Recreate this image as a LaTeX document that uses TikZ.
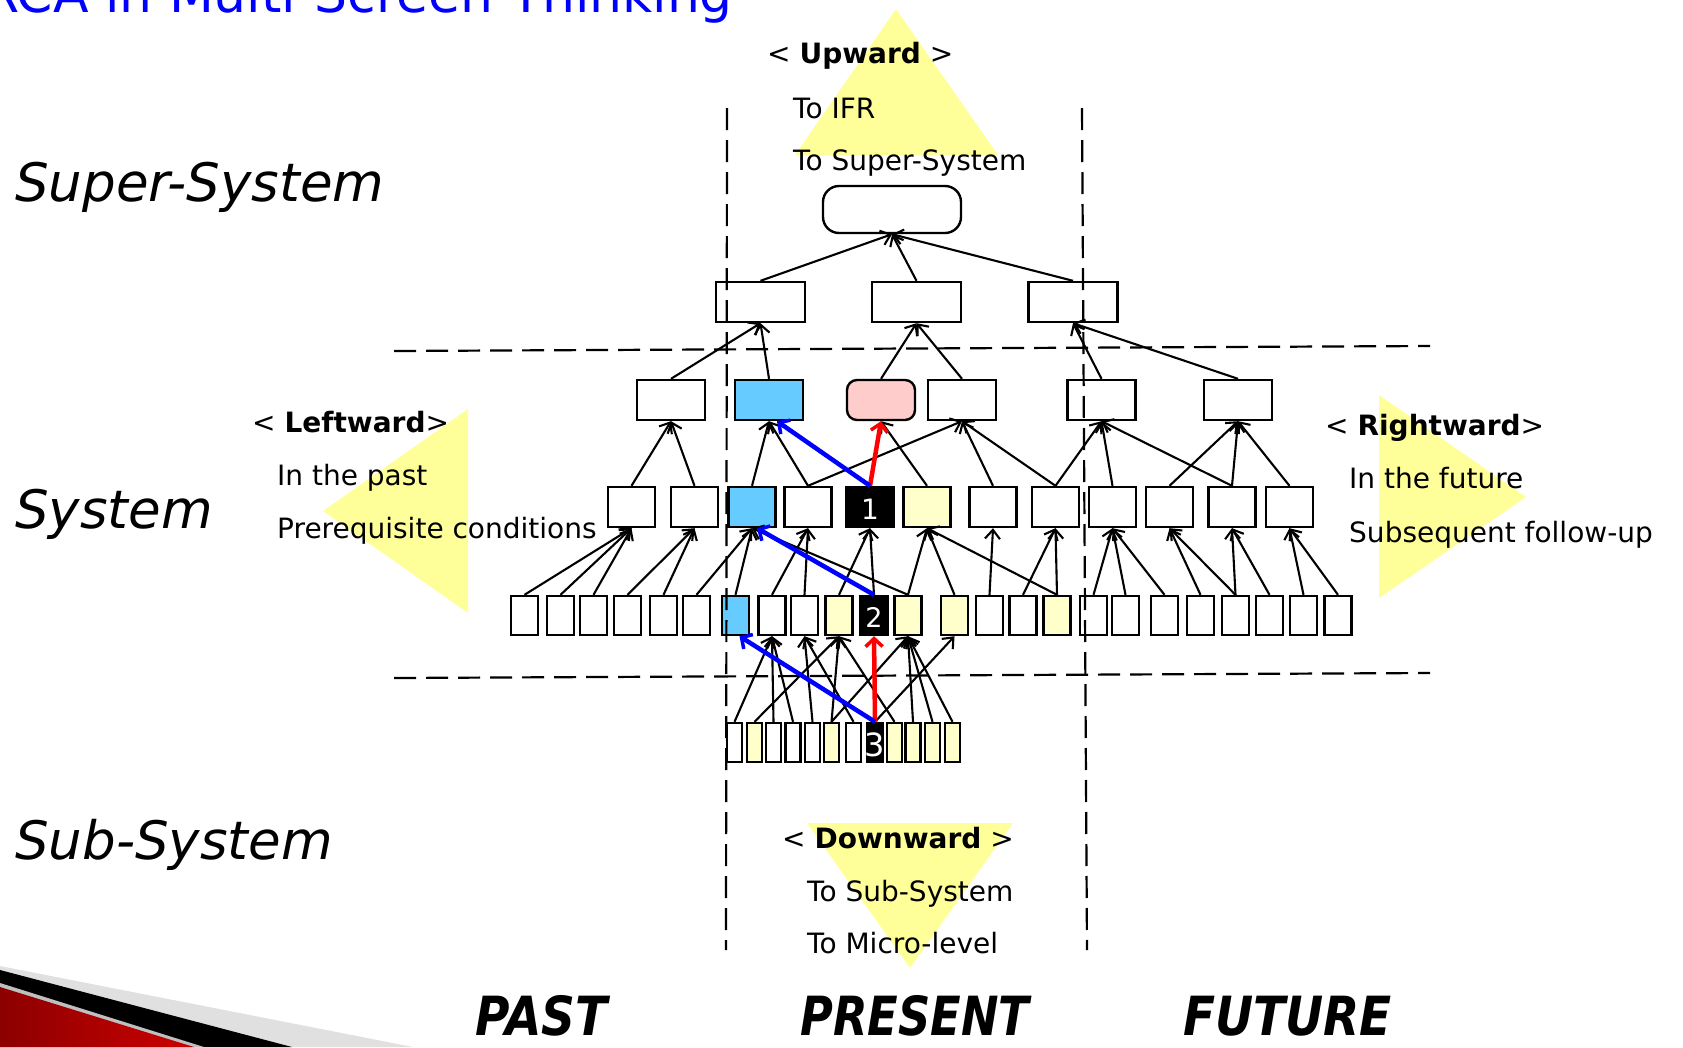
\documentclass[tikz,border=0pt]{standalone}
\usepackage{fontspec}
\setmainfont{DejaVu Sans}
\usetikzlibrary{arrows.meta}
\definecolor{triY}{RGB}{255,255,153}
\definecolor{boxY}{RGB}{255,255,204}
\definecolor{boxB}{RGB}{102,204,255}
\definecolor{boxP}{RGB}{255,204,204}
\definecolor{titleB}{RGB}{0,0,255}
\begin{document}
\begin{tikzpicture}[x=1pt,y=-1pt,
 bx/.style={draw, line width=2.4pt, inner sep=0pt, fill=white},
 rA/.style={bx, minimum width=138pt, minimum height=47pt, rounded corners=16pt},
 rB/.style={bx, minimum width=89pt, minimum height=40pt},
 rC/.style={bx, minimum width=68pt, minimum height=40pt},
 rD/.style={bx, minimum width=47pt, minimum height=40pt},
 rE/.style={bx, minimum width=27pt, minimum height=39pt},
 rF/.style={bx, minimum width=15pt, minimum height=39pt},
 yel/.style={fill=boxY}, blu/.style={fill=boxB}, blk/.style={fill=black},
 edge/.style={line width=2.1pt, -{Straight Barb[length=9pt,width=15pt,line width=2.1pt]}},
 redarr/.style={line width=4.5pt, draw=red, -{Straight Barb[length=8pt,width=17pt,line width=3.5pt]}},
 bluarr/.style={line width=4.5pt, draw=blue, -{Straight Barb[length=8pt,width=17pt,line width=3.5pt]}},
 dsh/.style={line width=2.2pt, dash pattern=on 22pt off 10pt},
 lbl/.style={anchor=base west, inner sep=0pt, font=\fontsize{28}{34}\selectfont},
 lvl/.style={anchor=base west, inner sep=0pt, font=\fontsize{53}{60}\selectfont\itshape},
 tim/.style={anchor=base west, inner sep=0pt, font=\fontsize{54}{62}\selectfont\bfseries\itshape},
 num/.style={text=white, inner sep=0pt},
]
\useasboundingbox (0,0) rectangle (1683,1047);

% title
\node[anchor=base west, inner sep=0pt, text=titleB, font=\fontsize{52}{60}\selectfont] (title) at (-17,12) {RCA in Multi-Screen Thinking};

% yellow direction triangles
\fill[triY] (896,9) -- (795,155) -- (998,155) -- cycle;
\fill[triY] (323,511) -- (468,409) -- (468,613) -- cycle;
\fill[triY] (1379,395) -- (1526,497) -- (1379,598) -- cycle;
\fill[triY] (807,823) -- (1013,823) -- (910,968) -- cycle;

% bottom-left decoration
\fill[black!12] (0,966) -- (413,1047) -- (0,1047) -- cycle;
\fill[black] (0,970) -- (292,1047) -- (0,1047) -- cycle;
\fill[black!25] (0,983) -- (204,1047) -- (0,1047) -- cycle;
\shade[left color=red!55!black, right color=red!80!black] (0,987) -- (194,1047) -- (0,1047) -- cycle;

% row A
\node[rA] (A) at (892,209.5) {};
% row B
\node[rB] (B1) at (760.5,302) {};
\node[rB] (B2) at (916.5,302) {};
\node[rB] (B3) at (1073,302) {};
% row C
\node[rC] (C1) at (671,400) {};
\node[rC,blu] (C2) at (769,400) {};
\node[rC,fill=boxP,rounded corners=10pt] (C3) at (881,400) {};
\node[rC] (C4) at (962,400) {};
\node[rC] (C5) at (1101.5,400) {};
\node[rC] (C6) at (1238,400) {};
% row D
\node[rD] (D1) at (631.5,507) {};
\node[rD] (D2) at (694.5,507) {};
\node[rD,blu] (D3) at (752,507) {};
\node[rD] (D4) at (808,507) {};
\node[rD,blk] (D5) at (870,507) {};
\node[rD,yel] (D6) at (927,507) {};
\node[rD] (D7) at (993,507) {};
\node[rD] (D8) at (1055.5,507) {};
\node[rD] (D9) at (1112.5,507) {};
\node[rD] (D10) at (1169.5,507) {};
\node[rD] (D11) at (1232,507) {};
\node[rD] (D12) at (1289.5,507) {};
% row E
\node[rE] (E1) at (524.5,615.5) {};
\node[rE] (E2) at (560.5,615.5) {};
\node[rE] (E3) at (593.5,615.5) {};
\node[rE] (E4) at (627.5,615.5) {};
\node[rE] (E5) at (663.5,615.5) {};
\node[rE] (E6) at (696.5,615.5) {};
\node[rE,blu] (E7) at (735.5,615.5) {};
\node[rE] (E8) at (772,615.5) {};
\node[rE] (E9) at (804.5,615.5) {};
\node[rE,yel] (E10) at (839,615.5) {};
\node[rE,blk] (E11) at (874,615.5) {};
\node[rE,yel] (E12) at (908,615.5) {};
\node[rE,yel] (E13) at (954.5,615.5) {};
\node[rE] (E14) at (989.5,615.5) {};
\node[rE] (E15) at (1023,615.5) {};
\node[rE,yel] (E16) at (1057,615.5) {};
\node[rE] (E17) at (1093.5,615.5) {};
\node[rE] (E18) at (1125.5,615.5) {};
\node[rE] (E19) at (1164.5,615.5) {};
\node[rE] (E20) at (1200.5,615.5) {};
\node[rE] (E21) at (1235.5,615.5) {};
\node[rE] (E22) at (1269.5,615.5) {};
\node[rE] (E23) at (1303.5,615.5) {};
\node[rE] (E24) at (1338,615.5) {};
% row F
\node[rF] (F1) at (734.5,742.5) {};
\node[rF,yel] (F2) at (754.5,742.5) {};
\node[rF] (F3) at (773.5,742.5) {};
\node[rF] (F4) at (793,742.5) {};
\node[rF] (F5) at (812.5,742.5) {};
\node[rF,yel] (F6) at (831.5,742.5) {};
\node[rF] (F7) at (853.5,742.5) {};
\node[rF,blk,minimum width=16pt] (F8) at (875,742.5) {};
\node[rF,yel] (F9) at (894.5,742.5) {};
\node[rF,yel] (F10) at (913,742.5) {};
\node[rF,yel] (F11) at (932.5,742.5) {};
\node[rF,yel] (F12) at (952.5,742.5) {};

% numbers
\node[num, font=\fontsize{28}{30}\selectfont] (n1) at (870,509) {1};
\node[num, font=\fontsize{27}{30}\selectfont] (n2) at (874,617) {2};
\node[num, font=\fontsize{32}{34}\selectfont] (n3) at (875,745) {3};

% dashed frame lines
\draw[dsh] (727,108) -- (726,950);
\draw[dsh] (1082,108) -- (1087,950);
\draw[dsh] (394,351) -- (1430,346);
\draw[dsh] (394,678) -- (1430,673);

% edges B->A
\foreach \c in {B1,B2,B3} \draw[edge] (\c.north) -- (A.south);
% edges C->B
\draw[edge] (C1.north) -- (B1.south);
\draw[edge] (C2.north) -- (B1.south);
\draw[edge] (C3.north) -- (B2.south);
\draw[edge] (C4.north) -- (B2.south);
\draw[edge] (C5.north) -- (B3.south);
\draw[edge] (C6.north) -- (B3.south);
% edges D->C
\draw[edge] (D1.north) -- (C1.south);
\draw[edge] (D2.north) -- (C1.south);
\draw[edge] (D3.north) -- (C2.south);
\draw[edge] (D4.north) -- (C2.south);
\draw[edge] (D4.north) -- (C4.south);
\draw[edge] (D6.north) -- (C3.south);
\draw[edge] (D7.north) -- (C4.south);
\draw[edge] (D8.north) -- (C4.south);
\draw[edge] (D8.north) -- (C5.south);
\draw[edge] (D9.north) -- (C5.south);
\draw[edge] (D11.north) -- (C5.south);
\draw[edge] (D10.north) -- (C6.south);
\draw[edge] (D11.north) -- (C6.south);
\draw[edge] (D12.north) -- (C6.south);
% edges E->D
\foreach \c in {E1,E2,E3} \draw[edge] (\c.north) -- (D1.south);
\foreach \c in {E4,E5} \draw[edge] (\c.north) -- (D2.south);
\foreach \c in {E6,E7,E12} \draw[edge] (\c.north) -- (D3.south);
\foreach \c in {E8,E9} \draw[edge] (\c.north) -- (D4.south);
\foreach \c in {E10,E11} \draw[edge] (\c.north) -- (D5.south);
\foreach \c in {E12,E13,E16} \draw[edge] (\c.north) -- (D6.south);
\draw[edge] (E14.north) -- (D7.south);
\foreach \c in {E15,E16} \draw[edge] (\c.north) -- (D8.south);
\foreach \c in {E17,E18,E19} \draw[edge] (\c.north) -- (D9.south);
\foreach \c in {E20,E21} \draw[edge] (\c.north) -- (D10.south);
\foreach \c in {E21,E22} \draw[edge] (\c.north) -- (D11.south);
\foreach \c in {E23,E24} \draw[edge] (\c.north) -- (D12.south);
% edges F->E
\foreach \c in {F1,F3,F4} \draw[edge] (\c.north) -- (E8.south);
\foreach \c in {F5,F7} \draw[edge] (\c.north) -- (E9.south);
\foreach \c in {F2,F6,F9} \draw[edge] (\c.north) -- (E10.south);
\foreach \c in {F6,F10,F11} \draw[edge] (\c.north) -- (E12.south);
\foreach \c in {F8} \draw[edge] (\c.north) -- (E13.south);
\draw[edge] (F12.north) -- (E12.south);

% highlighted paths
\draw[redarr] (D5.north) -- (C3.south);
\draw[bluarr] (D5.north) -- ([xshift=8pt]C2.south);
\draw[bluarr] (E11.north) -- ([xshift=5pt]D3.south);
\draw[redarr] (F8.north) -- (E11.south);
\draw[bluarr] (F8.north) -- ([xshift=4pt]E7.south);

% level labels
\node[lvl] (lss) at (15,201) {Super-System};
\node[lvl] (lsy) at (15,528) {System};
\node[lvl] (lsb) at (15,859) {Sub-System};

% direction texts
\node[lbl] (up0) at (767,63) {< \textbf{Upward} >};
\node[lbl] (up1) at (793,118) {To IFR};
\node[lbl] (up2) at (793,170) {To Super-System};
\node[lbl] (le0) at (252,432) {< \textbf{Leftward}>};
\node[lbl] (le1) at (277,485) {In the past};
\node[lbl] (le2) at (277,538) {Prerequisite conditions};
\node[lbl] (ri0) at (1325,435) {< \textbf{Rightward}>};
\node[lbl] (ri1) at (1349,488) {In the future};
\node[lbl] (ri2) at (1349,542) {Subsequent follow-up};
\node[lbl] (do0) at (782,848) {< \textbf{Downward} >};
\node[lbl] (do1) at (807,901) {To Sub-System};
\node[lbl] (do2) at (807,953) {To Micro-level};

% time labels
\node[tim] (tp) at (475,1035) {\scalebox{0.87}[1]{PAST}};
\node[tim] (tn) at (800,1035) {\scalebox{0.83}[1]{PRESENT}};
\node[tim] (tf) at (1183,1035) {\scalebox{0.87}[1]{FUTURE}};
\end{tikzpicture}
\end{document}
